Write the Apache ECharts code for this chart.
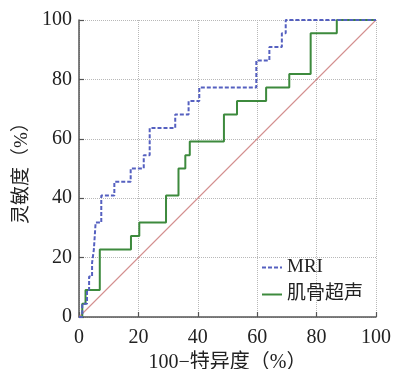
<!DOCTYPE html>
<html>
<head>
<meta charset="utf-8">
<script src="https://cdn.jsdelivr.net/npm/echarts@6/dist/echarts.min.js"></script>
<style>
html,body{margin:0;padding:0;background:#fff;}
#c{width:395px;height:369px;}
</style>
</head>
<body>
<div id="c"></div>
<script>
// Tick labels
const tickValues = [0, 20, 40, 60, 80, 100];
// MRI ROC (step points: x = 100-specificity, y = sensitivity after the step)
const mriX = [0, 1.1, 2.7, 3.4, 4.4, 5.0, 5.6, 7.5, 11.9, 17.4, 21.8, 23.8, 32.4, 36.9, 40.5, 59.7, 64.1, 68.3, 69.6, 100];
const mriY = [0, 4.5, 9.1, 13.6, 18.2, 22.7, 31.8, 40.9, 45.5, 50.0, 54.5, 63.6, 68.2, 72.7, 77.3, 86.4, 90.9, 95.5, 100, 100];
// 肌骨超声 ROC
const usX = [0, 1.1, 2.2, 7.0, 17.5, 20.3, 29.3, 33.5, 35.8, 37.3, 48.8, 53.2, 63.0, 70.8, 78.0, 86.8, 100];
const usY = [0, 4.5, 9.1, 22.7, 27.3, 31.8, 40.9, 50.0, 54.5, 59.1, 68.2, 72.7, 77.3, 81.8, 95.5, 100, 100];
// Reference diagonal
const diagX = [0, 100];
const diagY = [0, 100];

const zip = (a, b) => a.map((v, i) => [v, b[i]]);

const serif = "'Liberation Serif', 'Noto Sans CJK SC', serif";
const axisCommon = {
  type: 'value', min: 0, max: 100, interval: 20,
  axisLine: { show: true, onZero: false, lineStyle: { color: '#555', width: 1.5 } },
  axisTick: { show: true, inside: true, length: 5, lineStyle: { color: '#555', width: 1.2 } },
  splitLine: { show: true, lineStyle: { type: 'dotted', color: '#b8b8b8', width: 1 } },
  axisLabel: { fontFamily: serif, fontSize: 20, color: '#222' },
  nameTextStyle: { fontFamily: serif, fontSize: 19, color: '#222' },
  nameLocation: 'middle'
};

const chart = echarts.init(document.getElementById('c'), null, { renderer: 'canvas' });
chart.setOption({
  animation: false,
  backgroundColor: '#fff',
  grid: { left: 79, top: 20, width: 297, height: 297, containLabel: false, outerBoundsMode: 'none' },
  xAxis: Object.assign({}, axisCommon, {
    name: '100−特异度（%）', nameGap: 29,
    nameTextStyle: { fontFamily: serif, fontSize: 20, color: '#222' },
    axisLabel: Object.assign({}, axisCommon.axisLabel, { margin: 11 })
  }),
  yAxis: Object.assign({}, axisCommon, {
    name: '灵敏度（%）', nameGap: 46, nameRotate: 90,
    axisLabel: Object.assign({}, axisCommon.axisLabel, { margin: 7 })
  }),
  legend: {
    orient: 'vertical', left: 256, top: 253, itemGap: 8,
    itemWidth: 20, itemHeight: 12,
    itemStyle: { opacity: 0 },
    textStyle: { fontFamily: serif, fontSize: 19, color: '#222' },
    data: ['MRI', '肌骨超声']
  },
  series: [
    {
      name: 'diag', type: 'line', data: zip(diagX, diagY), symbol: 'none', silent: true,
      lineStyle: { color: '#d48f8f', width: 1.1 }, z: 1
    },
    {
      name: '肌骨超声', type: 'line', data: zip(usX, usY), step: 'end', symbol: 'none',
      lineStyle: { color: '#3d8a3d', width: 2 }, itemStyle: { color: '#3d8a3d' }, z: 2
    },
    {
      name: 'MRI', type: 'line', data: zip(mriX, mriY), step: 'end', symbol: 'none',
      lineStyle: { color: '#5560c0', width: 2, type: [4, 2] }, itemStyle: { color: '#5560c0' }, z: 3
    }
  ]
});
</script>
</body>
</html>
